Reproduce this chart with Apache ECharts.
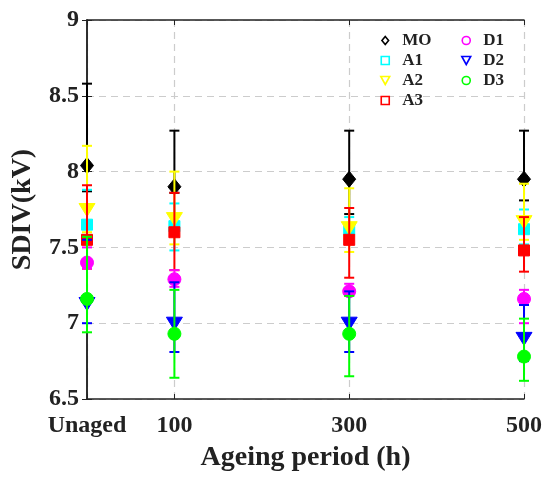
<!DOCTYPE html>
<html><head><meta charset="utf-8">
<script src="https://cdn.jsdelivr.net/npm/echarts@6/dist/echarts.min.js"></script>
<style>html,body{margin:0;padding:0;background:#fff}#c{width:545px;height:477px}</style>
</head><body><div id="c"></div>
<script>
const xValues = [0, 100, 300, 500];
const xTickLabels = ['Unaged', '100', '300', '500'];
const seriesNames = ['MO', 'A1', 'A2', 'A3', 'D1', 'D2', 'D3'];

const MO_mean = [8.04, 7.90, 7.95, 7.95];
const MO_low  = [7.87, 7.86, 7.72, 7.81];
const MO_high = [8.58, 8.27, 8.27, 8.27];

const A1_mean = [7.65, 7.64, 7.62, 7.62];
const A1_low  = [7.58, 7.48, 7.55, 7.52];
const A1_high = [7.88, 7.79, 7.70, 7.75];

const A2_mean = [7.75, 7.69, 7.63, 7.67];
const A2_low  = [7.60, 7.52, 7.47, 7.55];
const A2_high = [8.17, 8.00, 7.89, 7.92];

const A3_mean = [7.55, 7.60, 7.55, 7.48];
const A3_low  = [7.36, 7.35, 7.30, 7.34];
const A3_high = [7.91, 7.86, 7.76, 7.70];

const D1_mean = [7.40, 7.29, 7.21, 7.16];
const D1_low  = [7.36, 7.24, 7.18, 7.00];
const D1_high = [7.50, 7.35, 7.26, 7.22];

const D2_mean = [7.13, 7.00, 7.00, 6.90];
const D2_low  = [7.00, 6.81, 6.81, 6.75];
const D2_high = [7.55, 7.27, 7.21, 7.12];

const D3_mean = [7.16, 6.93, 6.93, 6.78];
const D3_low  = [6.94, 6.64, 6.65, 6.62];
const D3_high = [7.57, 7.22, 7.18, 7.03];

const yTicks = [6.5, 7, 7.5, 8, 8.5, 9];

const means = [MO_mean, A1_mean, A2_mean, A3_mean, D1_mean, D2_mean, D3_mean];
const lows  = [MO_low, A1_low, A2_low, A3_low, D1_low, D2_low, D3_low];
const highs = [MO_high, A1_high, A2_high, A3_high, D1_high, D2_high, D3_high];
const colors = ['#000000', '#00ffff', '#ffff00', '#ff0000', '#ff00ff', '#0000ff', '#00ff00'];
const shapes = ['diamond', 'square', 'tridown', 'square', 'circle', 'tridown', 'circle'];
const legendIcons = {
  diamond: 'path://M5,0L10,6L5,12L0,6Z',
  square: 'path://M0,0L10,0L10,10L0,10Z',
  tridown: 'path://M0,0L10,0L5,9Z',
  circle: 'path://M5,0A5,5,0,1,1,4.99,0Z'
};

function markerEl(shape, x, y, color) {
  const st = {fill: color, stroke: color, lineWidth: 1};
  if (shape === 'diamond') return {type: 'polygon', shape: {points: [[x, y - 8], [x + 6.5, y], [x, y + 8], [x - 6.5, y]]}, style: st};
  if (shape === 'square') return {type: 'rect', shape: {x: x - 5.5, y: y - 5.5, width: 11, height: 11}, style: st};
  if (shape === 'tridown') return {type: 'polygon', shape: {points: [[x - 8, y - 6], [x + 8, y - 6], [x, y + 7]]}, style: st};
  return {type: 'circle', shape: {cx: x, cy: y, r: 6.5}, style: st};
}

function makeRender(shape, color) {
  return function (params, api) {
    const x = api.value(0), v = api.value(1), lo = api.value(2), hi = api.value(3);
    const p = api.coord([x, v]);
    const pl = api.coord([x, lo]);
    const ph = api.coord([x, hi]);
    const cw = 5;
    const ls = {stroke: color, lineWidth: 2};
    return {
      type: 'group',
      children: [
        {type: 'line', shape: {x1: p[0], y1: pl[1], x2: p[0], y2: ph[1]}, style: ls},
        {type: 'line', shape: {x1: p[0] - cw, y1: ph[1], x2: p[0] + cw, y2: ph[1]}, style: ls},
        {type: 'line', shape: {x1: p[0] - cw, y1: pl[1], x2: p[0] + cw, y2: pl[1]}, style: ls},
        markerEl(shape, p[0], p[1], color)
      ]
    };
  };
}

const series = seriesNames.map((name, i) => ({
  name: name,
  type: 'custom',
  xAxisIndex: 0,
  yAxisIndex: 0,
  itemStyle: {color: colors[i]},
  encode: {x: 0, y: [1, 2, 3]},
  renderItem: makeRender(shapes[i], colors[i]),
  data: xValues.map((xv, j) => [xv, means[i][j], lows[i][j], highs[i][j]])
}));

const font = '"Liberation Serif", "Times New Roman", serif';
const legendData = (names) => names.map(n => {
  const i = seriesNames.indexOf(n);
  return {name: n, icon: legendIcons[shapes[i]],
    itemStyle: {color: 'rgba(0,0,0,0)', borderColor: colors[i], borderWidth: 1.6}};
});
const legendCommon = {
  orient: 'vertical', itemWidth: 24, itemHeight: 8, itemGap: 3,
  textStyle: {fontFamily: font, fontWeight: 'bold', fontSize: 17, color: '#222', lineHeight: 16},
  selectedMode: false
};

const chart = echarts.init(document.getElementById('c'), null, {renderer: 'canvas'});
chart.setOption({
  animation: false,
  backgroundColor: '#fff',
  grid: {left: 87, right: 20, top: 20, bottom: 75},
  legend: [
    Object.assign({}, legendCommon, {left: 375, top: 27, data: legendData(['MO', 'A1', 'A2', 'A3'])}),
    Object.assign({}, legendCommon, {left: 456, top: 27, data: legendData(['D1', 'D2', 'D3'])})
  ],
  xAxis: [{
    type: 'value', min: 0, max: 500, position: 'bottom',
    name: 'Ageing period (h)', nameLocation: 'middle', nameGap: 45,
    nameTextStyle: {fontFamily: font, fontWeight: 'bold', fontSize: 28, color: '#222'},
    axisLine: {lineStyle: {color: '#222', width: 1.5}},
    axisTick: {inside: true, length: 5, customValues: xValues, lineStyle: {color: '#222'}},
    axisLabel: {customValues: xValues, margin: 15, fontFamily: font, fontWeight: 'bold', fontSize: 24, color: '#222',
      formatter: v => xTickLabels[xValues.indexOf(v)] || ''},
    splitLine: {show: true, lineStyle: {color: '#cccccc', type: [7, 5], width: 1.2}}
  }, {
    type: 'value', min: 0, max: 500, position: 'top',
    axisLine: {show: true, lineStyle: {color: '#222', width: 1.5}},
    axisTick: {show: true, inside: true, length: 5, customValues: xValues, lineStyle: {color: '#222'}},
    axisLabel: {show: false}, splitLine: {show: false}
  }],
  yAxis: [{
    type: 'value', min: 6.5, max: 9, interval: 0.5, position: 'left',
    name: 'SDIV(kV)', nameLocation: 'middle', nameGap: 50,
    nameTextStyle: {fontFamily: font, fontWeight: 'bold', fontSize: 28, color: '#222'},
    axisLine: {show: true, lineStyle: {color: '#222', width: 1.5}},
    axisTick: {show: true, inside: true, length: 5, lineStyle: {color: '#222'}},
    axisLabel: {margin: 8, fontFamily: font, fontWeight: 'bold', fontSize: 24, color: '#222',
      formatter: v => { const t = yTicks.find(a => Math.abs(a - v) < 1e-6); return t === undefined ? '' : String(t); }},
    splitLine: {show: true, lineStyle: {color: '#cccccc', type: [7, 5], width: 1.2}}
  }, {
    type: 'value', min: 6.5, max: 9, interval: 0.5, position: 'right',
    axisLine: {show: true, lineStyle: {color: '#222', width: 1.5}},
    axisTick: {show: true, inside: true, length: 5, lineStyle: {color: '#222'}},
    axisLabel: {show: false}, splitLine: {show: false}
  }],
  series: series
});
</script>
</body></html>
